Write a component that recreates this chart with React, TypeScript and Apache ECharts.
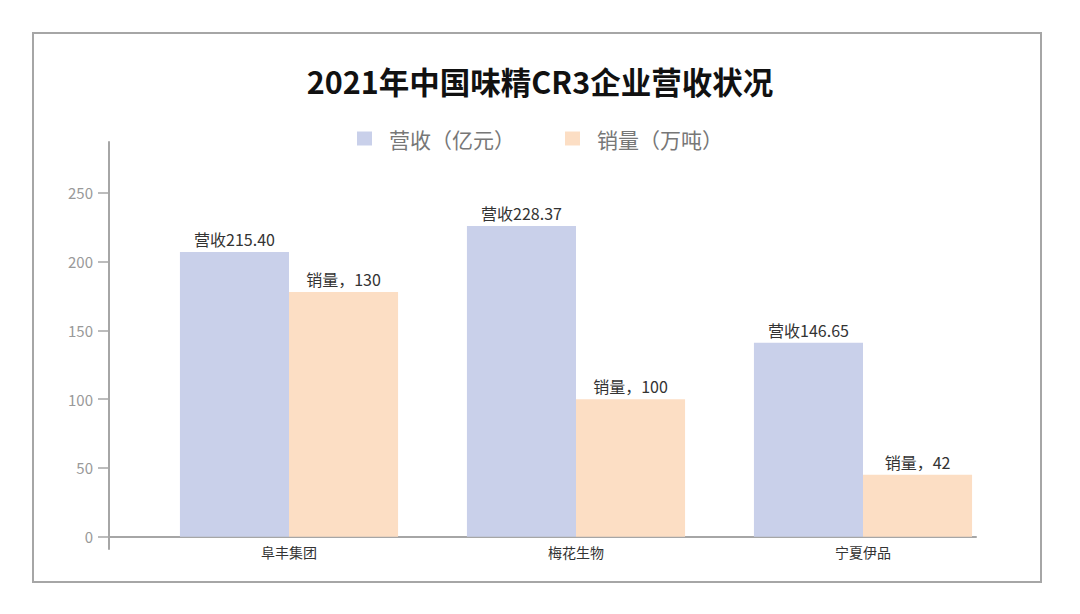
import React, { useEffect, useRef } from 'react';
import * as echarts from 'echarts';

// companies on the x axis
const companies = ['阜丰集团', '梅花生物', '宁夏伊品'];

// bar heights as drawn in the picture
const revenueBars = [207, 226, 141];
const volumeBars = [178, 100, 45];

// texts printed above the bars
const revenueLabels = ['215.40', '228.37', '146.65'];
const volumeLabels = ['130', '100', '42'];

const seriesNames = ['营收（亿元）', '销量（万吨）'];
const yTicks = [0, 50, 100, 150, 200, 250];

const FONT = '"Noto Sans CJK SC", "Noto Sans", sans-serif';
const AXIS_GRAY = '#a6a6a6';

const App: React.FC = () => {
    const chartRef = useRef<HTMLDivElement>(null);

    useEffect(() => {
        if (!chartRef.current) return;

        const chart = echarts.init(chartRef.current, null, { renderer: 'svg' });

        const option: echarts.EChartsOption = {
            animation: false,
            backgroundColor: '#ffffff',
            textStyle: { fontFamily: FONT },
            title: {
                text: '2021年中国味精CR3企业营收状况',
                left: 'center',
                top: 61,
                textStyle: {
                    fontFamily: FONT,
                    fontSize: 30.5,
                    fontWeight: 'bold',
                    color: '#111111'
                }
            },
            legend: {
                top: 123,
                left: 'center',
                itemWidth: 15,
                itemHeight: 14,
                itemGap: 50,
                icon: 'rect',
                data: seriesNames,
                textStyle: {
                    fontFamily: FONT,
                    fontSize: 21,
                    color: '#777777',
                    padding: [0, 0, 0, 12]
                }
            },
            graphic: [
                {
                    type: 'rect',
                    shape: { x: 33, y: 33, width: 1008, height: 549 },
                    style: { fill: 'none', stroke: AXIS_GRAY, lineWidth: 2 },
                    silent: true
                }
            ],
            grid: [
                { left: 145.5, right: 73.5, top: 142, bottom: 65 },
                { left: 109, right: 104, top: 142, bottom: 65 }
            ],
            xAxis: [
                {
                    type: 'category',
                    gridIndex: 0,
                    data: companies,
                    axisLine: { show: false },
                    axisTick: { show: false },
                    axisLabel: {
                        fontFamily: FONT,
                        fontSize: 14,
                        color: '#333333',
                        // the grid bottom sits a little below the zero line
                        margin: -4
                    }
                },
                {
                    type: 'value',
                    gridIndex: 1,
                    min: 0,
                    max: 1,
                    axisLine: { show: true, lineStyle: { color: AXIS_GRAY, width: 2 } },
                    axisTick: { show: false },
                    axisLabel: { show: false },
                    splitLine: { show: false }
                }
            ],
            yAxis: [
                {
                    type: 'value',
                    gridIndex: 0,
                    min: -9,
                    max: 287,
                    axisLine: { show: false },
                    axisTick: { show: false },
                    axisLabel: { show: false },
                    splitLine: { show: false }
                },
                {
                    type: 'value',
                    gridIndex: 1,
                    min: -9,
                    max: 287,
                    axisLine: { show: true, lineStyle: { color: AXIS_GRAY, width: 2 } },
                    axisTick: {
                        show: true,
                        length: 11,
                        customValues: yTicks,
                        lineStyle: { color: AXIS_GRAY, width: 1.5 }
                    },
                    axisLabel: {
                        customValues: yTicks,
                        margin: 16,
                        fontFamily: FONT,
                        fontSize: 15,
                        color: '#999999'
                    },
                    splitLine: { show: false }
                }
            ],
            series: [
                {
                    name: seriesNames[0],
                    type: 'bar',
                    xAxisIndex: 0,
                    yAxisIndex: 0,
                    data: revenueBars,
                    barGap: '0%',
                    barCategoryGap: '24%',
                    itemStyle: { color: '#c9d0ea' },
                    label: {
                        show: true,
                        position: 'top',
                        distance: 5,
                        fontFamily: FONT,
                        fontSize: 16,
                        color: '#333333',
                        formatter: (p: any) => '营收' + revenueLabels[p.dataIndex]
                    }
                },
                {
                    name: seriesNames[1],
                    type: 'bar',
                    xAxisIndex: 0,
                    yAxisIndex: 0,
                    data: volumeBars,
                    barGap: '0%',
                    barCategoryGap: '24%',
                    itemStyle: { color: '#fcdec4' },
                    label: {
                        show: true,
                        position: 'top',
                        distance: 5,
                        fontFamily: FONT,
                        fontSize: 16,
                        color: '#333333',
                        formatter: (p: any) => '销量，' + volumeLabels[p.dataIndex]
                    }
                }
            ]
        };

        chart.setOption(option);

        return () => {
            chart.dispose();
        };
    }, []);

    return (
        <div
            ref={chartRef}
            style={{
                position: 'absolute',
                left: 0,
                top: 0,
                width: '1080px',
                height: '614px'
            }}
        />
    );
};

export default App;
